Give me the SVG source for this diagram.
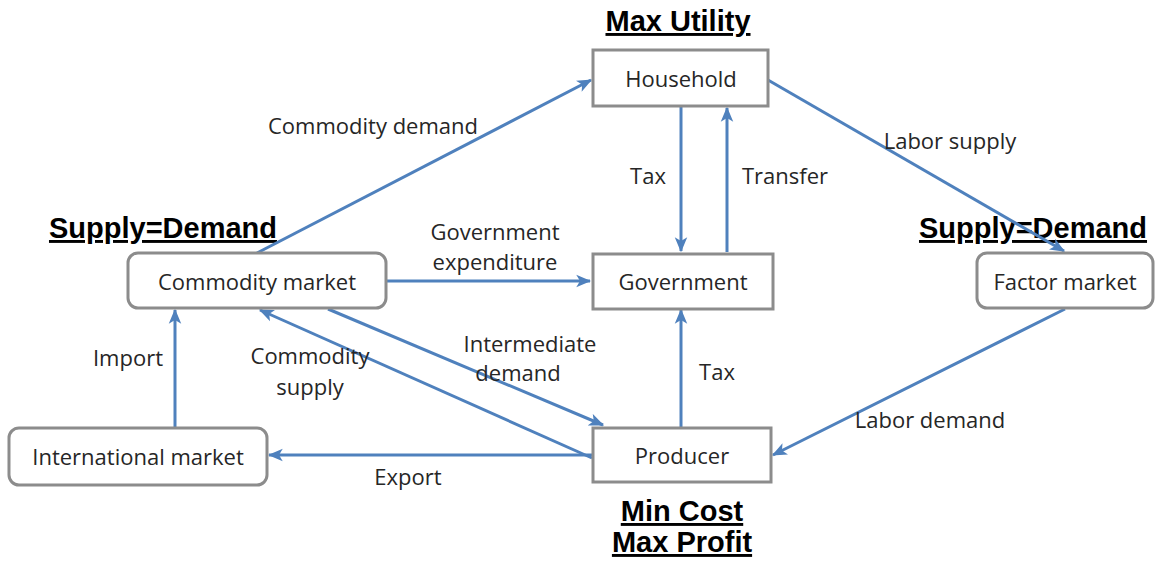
<svg xmlns="http://www.w3.org/2000/svg" width="1155" height="563" viewBox="0 0 1155 563">
<style>
.box{fill:#fff;stroke:#8c8c8c;stroke-width:3}
.nt{font-family:"Open Sans","Liberation Sans",sans-serif;font-size:22px;fill:#262626;text-anchor:middle}
.lb{font-family:"Open Sans","Liberation Sans",sans-serif;font-size:22px;fill:#262626;text-anchor:middle}
.tt{font-family:"Liberation Sans",Arial,sans-serif;font-size:29px;font-weight:bold;fill:#000;text-anchor:middle;text-decoration:underline}
.c{stroke:#4f81bd;stroke-width:3;fill:none;marker-end:url(#ah)}
</style>
<defs>
<marker id="ah" viewBox="0 0 12 10" refX="11" refY="5" markerWidth="5" markerHeight="4.5" markerUnits="strokeWidth" orient="auto">
<path d="M0,0 L12,5 L0,10 L3,5 z" fill="#4f81bd"/>
</marker>
</defs>
<rect width="1155" height="563" fill="#fff"/>
<g id="titles">
<text class="tt" x="678" y="31">Max Utility</text>
<text class="tt" x="163" y="238">Supply=Demand</text>
<text class="tt" x="1033" y="238">Supply=Demand</text>
<text class="tt" x="682" y="521">Min Cost</text>
<text class="tt" x="682" y="552">Max Profit</text>
</g>
<g id="connectors">
<path class="c" d="M257,253 L591,80"/>
<path class="c" d="M768,80 L1064,251"/>
<path class="c" d="M681,107 L681,251"/>
<path class="c" d="M727,252 L727,108"/>
<path class="c" d="M387,281 L590,281"/>
<path class="c" d="M681,427 L681,310"/>
<path class="c" d="M1065,309 L773,455"/>
<path class="c" d="M592,455 L269,455"/>
<path class="c" d="M175,427 L175,310"/>
<path class="c" d="M592,458 L260,310"/>
<path class="c" d="M328,309 L603,425"/>
<text class="lb" x="373" y="134">Commodity demand</text>
<text class="lb" x="950" y="149">Labor supply</text>
<text class="lb" x="648" y="184">Tax</text>
<text class="lb" x="785" y="184">Transfer</text>
<text class="lb" x="495" y="240">Government</text>
<text class="lb" x="495" y="270">expenditure</text>
<text class="lb" x="128" y="366">Import</text>
<text class="lb" x="310" y="364">Commodity</text>
<text class="lb" x="310" y="395">supply</text>
<text class="lb" x="530" y="352">Intermediate</text>
<text class="lb" x="518" y="381">demand</text>
<text class="lb" x="717" y="380">Tax</text>
<text class="lb" x="930" y="428">Labor demand</text>
<text class="lb" x="408" y="485">Export</text>
</g>
<g id="household">
<rect class="box" x="593" y="50" width="175" height="56"/>
<text class="nt" x="681" y="87">Household</text>
</g>
<g id="government">
<rect class="box" x="593" y="254" width="180" height="55"/>
<text class="nt" x="683" y="290">Government</text>
</g>
<g id="producer">
<rect class="box" x="593" y="428" width="178" height="54"/>
<text class="nt" x="682" y="464">Producer</text>
</g>
<g id="commodity-market">
<rect class="box" x="128" y="253" width="258" height="55" rx="10"/>
<text class="nt" x="257" y="290">Commodity market</text>
</g>
<g id="factor-market">
<rect class="box" x="977" y="253" width="176" height="55" rx="10"/>
<text class="nt" x="1065" y="290">Factor market</text>
</g>
<g id="international-market">
<rect class="box" x="9" y="428" width="258" height="57" rx="10"/>
<text class="nt" x="138" y="465">International market</text>
</g>
</svg>
